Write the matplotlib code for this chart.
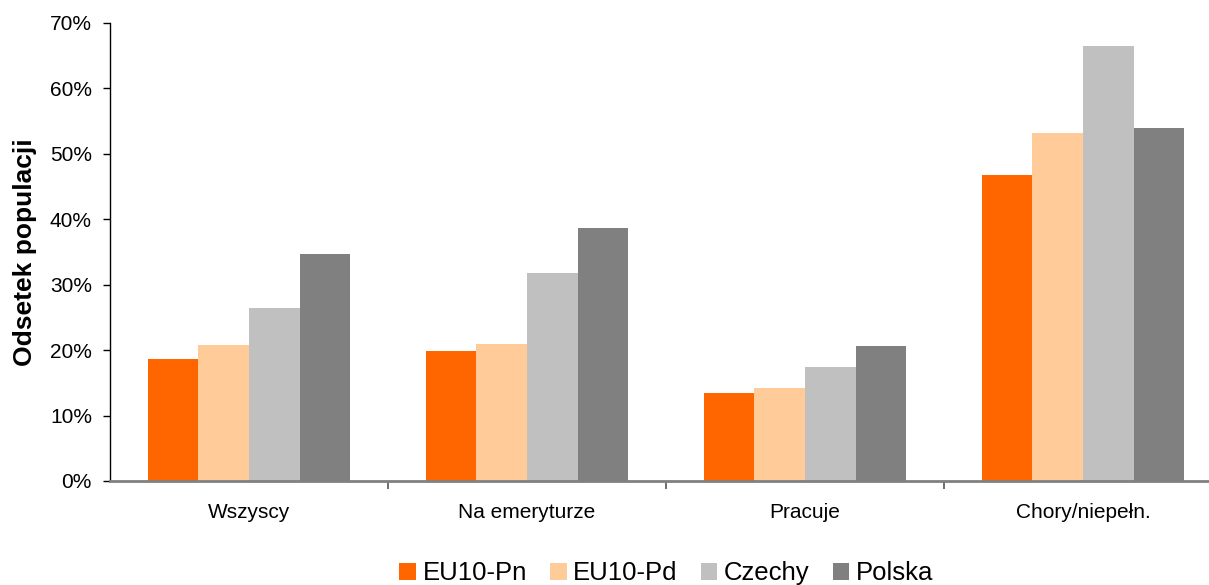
import numpy as np
import matplotlib.pyplot as plt
from matplotlib.patches import Patch
from matplotlib.ticker import FuncFormatter, FixedLocator

plt.rcParams['font.family'] = ['Liberation Sans', 'DejaVu Sans']

categories = ['Wszyscy', 'Na emeryturze', 'Pracuje', 'Chory/niepełn.']
series_names = ['EU10-Pn', 'EU10-Pd', 'Czechy', 'Polska']
values = {
    'EU10-Pn': [18.6, 19.8, 13.5, 46.8],
    'EU10-Pd': [20.7, 20.9, 14.2, 53.1],
    'Czechy': [26.4, 31.7, 17.4, 66.4],
    'Polska': [34.6, 38.6, 20.6, 53.9],
}
colors = ['#ff6600', '#ffcc99', '#c0c0c0', '#808080']

fig = plt.figure(figsize=(12.09, 5.85), dpi=100)
# plot area runs slightly past the right edge of the figure
ax = fig.add_axes([110 / 1209, 1 - 481 / 585, 1112 / 1209, (481 - 22.7) / 585])

x = np.arange(len(categories))
bar_w = 0.182
for i, (name, col) in enumerate(zip(series_names, colors)):
    ax.bar(x + (i - 1.5) * bar_w, values[name], width=bar_w, color=col,
           linewidth=0, zorder=2)

ax.set_xlim(-0.5, len(categories) - 0.5)
ax.set_ylim(0, 70)
ax.set_yticks(np.arange(0, 71, 10))
ax.yaxis.set_major_formatter(FuncFormatter(lambda v, _: f'{v:.0f}%'))
ax.tick_params(axis='y', direction='out', length=5, width=1, labelsize=15,
               pad=8, color='black')

# category labels centred on the groups, ticks between the groups
ax.set_xticks(x)
ax.set_xticklabels(categories, fontsize=15)
ax.tick_params(axis='x', which='major', length=0, pad=16)
ax.xaxis.set_minor_locator(FixedLocator(np.arange(0.5, len(categories) - 0.5, 1)))
ax.tick_params(axis='x', which='minor', direction='out', length=6, width=1.2,
               color='#555555')

for s in ['top', 'right']:
    ax.spines[s].set_visible(False)
ax.spines['left'].set_color('black')
ax.spines['left'].set_linewidth(1)
ax.spines['bottom'].set_color('#808080')
ax.spines['bottom'].set_linewidth(2)

ax.set_ylabel('Odsetek populacji', fontsize=19, fontweight='bold', labelpad=9)

handles = [Patch(facecolor=c, edgecolor='none') for c in colors]
fig.legend(handles, series_names, loc='center', bbox_to_anchor=(0.551, 0.02),
           ncol=4, frameon=False, fontsize=18.5, handlelength=0.65,
           handleheight=0.65, handletextpad=0.25, columnspacing=0.9,
           borderaxespad=0)

fig.savefig('out.png', dpi=100)
